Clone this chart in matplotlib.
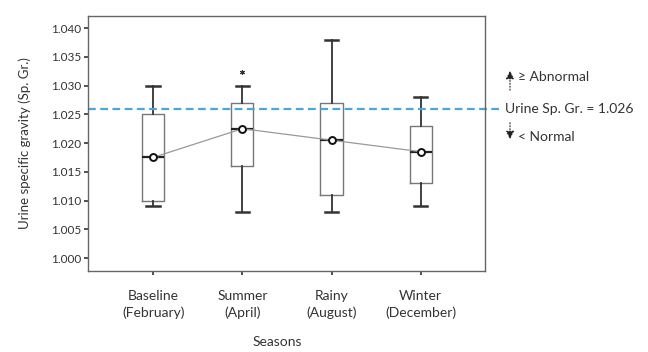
import matplotlib.pyplot as plt

plt.rcParams['font.family'] = ['Lato', 'DejaVu Sans']

seasons = ["Baseline\n(February)", "Summer\n(April)", "Rainy\n(August)", "Winter\n(December)"]
whisker_low = [1.009, 1.008, 1.008, 1.009]
q1 = [1.010, 1.016, 1.011, 1.013]
medians = [1.0175, 1.0225, 1.0205, 1.0185]
q3 = [1.025, 1.027, 1.027, 1.023]
whisker_high = [1.030, 1.030, 1.038, 1.028]
outliers = [[], [1.0323], [], []]
threshold = 1.026

stats = []
for i in range(len(seasons)):
    stats.append(dict(whislo=whisker_low[i], q1=q1[i], med=medians[i], q3=q3[i],
                      whishi=whisker_high[i], fliers=outliers[i], label=seasons[i]))

fig = plt.figure(figsize=(6.48, 3.52), dpi=100)
ax = fig.add_axes([88 / 648, 81 / 352, 397 / 648, 255 / 352])

pos = [1, 2, 3, 4]
ax.bxp(stats, positions=pos, widths=0.25, showfliers=True,
       boxprops=dict(color='#777777', linewidth=1.0),
       whiskerprops=dict(color='#333333', linewidth=1.3),
       capprops=dict(color='#333333', linewidth=1.8),
       medianprops=dict(color='#222222', linewidth=1.6),
       flierprops=dict(marker=(6, 2, 0), markersize=3.5, markeredgecolor='#333333',
                       markeredgewidth=0.8, linestyle='none'),
       capwidths=0.15)

ax.plot(pos, medians, color='#999999', linewidth=0.9, zorder=3)
ax.plot(pos, medians, linestyle='none', marker='o', markersize=5,
        markerfacecolor='white', markeredgecolor='#111111', markeredgewidth=1.4, zorder=4)

ax.axhline(threshold, color='#4aa6dc', linestyle=(0, (3.5, 2)), linewidth=1.6,
           xmax=1.035, clip_on=False, zorder=2)

ax.set_xlim(0.27, 4.72)
ax.set_ylim(0.99775, 1.0421)
ax.set_yticks([1.000, 1.005, 1.010, 1.015, 1.020, 1.025, 1.030, 1.035, 1.040])
ax.set_yticklabels([f"{v:.3f}" for v in ax.get_yticks()], fontsize=8.5, color='#333333')
ax.set_xticks(pos)
ax.set_xticklabels(seasons, fontsize=10, color='#333333', linespacing=1.4)
ax.tick_params(axis='y', length=3, width=1.2, color='#333333', pad=2)
ax.tick_params(axis='x', length=3, width=1.2, color='#333333', pad=11)
for s in ax.spines.values():
    s.set_color('#666666')
    s.set_linewidth(1.0)

ax.set_ylabel("Urine specific gravity (Sp. Gr.)", fontsize=9.5, color='#333333', labelpad=14)
fig.text(277 / 648, 4 / 352, "Seasons", fontsize=10, color='#333333', ha='center', va='bottom')

# annotation on the right
ax.text(1.05, threshold, "Urine Sp. Gr. = 1.026", transform=ax.get_yaxis_transform(),
        fontsize=10, color='#333333', va='center', ha='left', clip_on=False)
ax.annotate("", xy=(510 / 648, 1 - 68 / 352), xytext=(510 / 648, 1 - 93 / 352),
            xycoords='figure fraction', textcoords='figure fraction',
            arrowprops=dict(arrowstyle='-|>', linestyle=':', color='#222222', lw=0.8,
                            mutation_scale=12))
ax.annotate("", xy=(510 / 648, 1 - 142 / 352), xytext=(510 / 648, 1 - 120 / 352),
            xycoords='figure fraction', textcoords='figure fraction',
            arrowprops=dict(arrowstyle='-|>', linestyle=':', color='#222222', lw=0.8,
                            mutation_scale=12))
fig.text(518 / 648, 1 - 77 / 352, "≥ Abnormal", fontsize=10, color='#333333', va='center')
fig.text(518 / 648, 1 - 137 / 352, "< Normal", fontsize=10, color='#333333', va='center')

fig.savefig("out.png", dpi=100)
